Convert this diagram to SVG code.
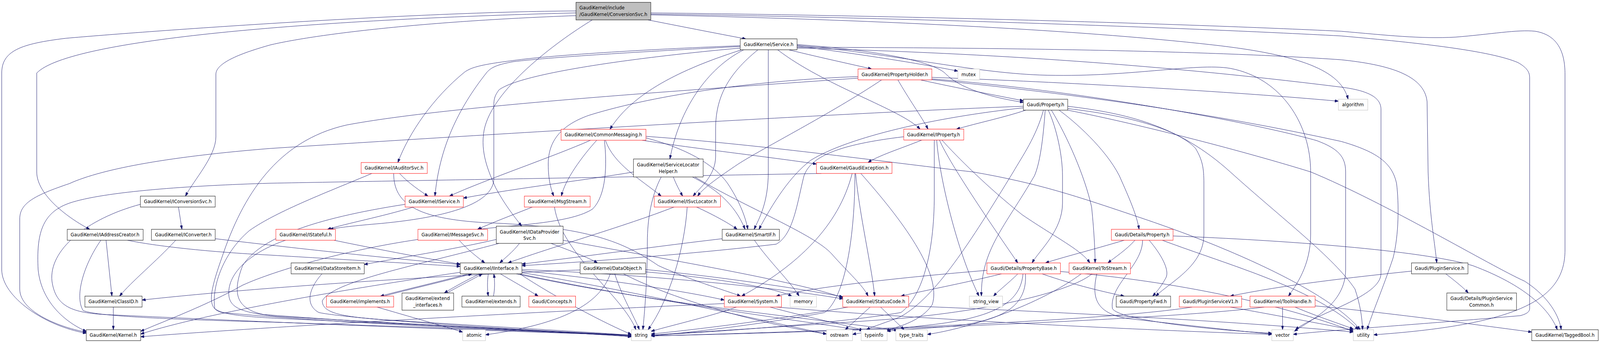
<svg xmlns="http://www.w3.org/2000/svg" width="4617" height="878" viewBox="0 0 4617 878" preserveAspectRatio="none">
<defs>
<marker id="arr" viewBox="0 0 10 7" refX="10" refY="3.5" markerWidth="10" markerHeight="7" markerUnits="userSpaceOnUse" orient="auto"><path d="M0,0 L10,3.5 L0,7 z" fill="#191970" stroke="#191970"/></marker>
</defs>
<style>
svg{width:100vw;height:100vh}
.n rect{fill:#fff;stroke:#000;stroke-width:1}
.n.r rect{stroke:#f00}
.n.s rect{stroke:#bfbfbf}
#root rect{fill:#bfbfbf}
text{font-family:"DejaVu Sans",sans-serif;font-size:13px;fill:#000;text-anchor:middle}
#root text{text-anchor:start}
#edges path{fill:none;stroke:#191970;stroke-width:1;marker-end:url(#arr)}
</style>
<rect x="0" y="0" width="4617" height="878" fill="#fff"/>
<g id="edges">
<path d="M1870,51 C1950,65 2070,86 2152,99.5"/>
<path d="M1662,28 C1200,30 420,80 190,98 C60,112 5,130 5,187 L5,690 C5,760 130,835 249,853"/>
<path d="M1662,33 C900,50 200,100 106,187 L106,440 C106,500 200,560 259,587"/>
<path d="M1662,40 C1200,55 900,90 780,115 C700,135 623,160 623,190 L623,350 C623,400 560,460 535,502"/>
<path d="M1709,51 C1600,110 1420,230 1397,333 C1385,390 1410,440 1430,480 C1460,530 1490,560 1505,579"/>
<path d="M1878,38 C2500,50 3100,75 3500,115 C3750,140 3870,180 3890,254"/>
<path d="M1878,33 C2600,40 3400,60 3870,80 C4000,90 4100,100 4200,95 C4300,88 4380,75 4430,80 C4500,90 4516,140 4516,190 L4516,640 C4516,760 4400,830 3964,857"/>
<path d="M1878,36 C2600,45 3400,70 3870,92 C4100,110 4300,130 4380,160 C4410,175 4414,187 4414,200 L4414,790 C4414,800 4400,805 4387,808 C4100,830 3800,848 3732,856"/>
<path d="M2140,127.5 C1990,170 1830,230 1760,331"/>
<path d="M2146,127.5 C2040,175 1960,280 1933,407"/>
<path d="M2187,127.5 C2100,190 2065,250 2065,330 L2065,400 C2065,450 2020,480 2000,502"/>
<path d="M2217,127.5 L2217,440 C2217,520 2190,560 2176,587"/>
<path d="M2244,127.5 C2380,220 2600,280 2655,330.5"/>
<path d="M2276,127.5 C2380,150 2460,165 2515,176.5"/>
<path d="M2300,118 C2500,140 2700,170 2764,182"/>
<path d="M2300,114 C2550,130 2700,160 2730,190 C2780,235 2900,255 2953,262"/>
<path d="M2300,121 C2900,122 3500,130 3870,153 C4000,165 4110,190 4118,260 L4121,440 C4125,550 4140,620 4146,673"/>
<path d="M2300,116 C2600,140 2800,185 3000,192 C3250,200 3450,160 3550,175 C3700,200 3782,320 3782,440 L3782,600 C3782,680 3740,730 3718,758"/>
<path d="M2300,123 C2800,135 3300,160 3870,223 C3950,232 3985,250 3985,280 L3985,700 C3985,760 3800,800 3738,844"/>
<path d="M2136,117 C1900,125 1600,140 1480,155 C1390,165 1360,172 1340,185 C1250,250 1180,340 1148,416"/>
<path d="M2136,119 C1900,130 1600,145 1480,158 C1440,165 1420,170 1405,185 C1320,280 1268,380 1255,502"/>
<path d="M2136,123 C1800,150 1500,190 1440,230 C1427,245 1425,255 1425,270 L1425,460 C1420,520 1300,555 1100,572 C1020,578 980,582 952,587"/>
<path d="M2591,204.5 C2620,250 2660,300 2678,330.5"/>
<path d="M2656,204.5 C2760,225 2880,245 2953,258"/>
<path d="M2544,204.5 C2400,290 2200,380 2130,420 C2080,450 2030,480 2013,502"/>
<path d="M2476,196 C2200,205 1900,240 1700,295 C1620,320 1582,360 1582,420 C1582,460 1590,485 1598,502"/>
<path d="M2476,200 C2000,230 1300,270 1000,320 C800,360 700,500 640,660 C600,760 600,790 640,800 C1000,830 1600,850 1822,858"/>
<path d="M2689,198 C3000,208 3500,230 3862,259"/>
<path d="M2689,202 C3100,230 3600,310 3800,360 C3860,380 3883,400 3883,440 L3883,690 C3883,780 3780,820 3735,848"/>
<path d="M2689,204 C3100,240 3500,290 3870,362 C3980,390 4018,420 4030,470 C4037,520 4037,600 4020,660 C3990,740 3960,800 3945,844"/>
<path d="M2953,272 C2400,290 1300,350 780,380 C500,400 300,430 200,470 C100,500 57,520 57,560 L57,740 C57,800 180,840 249,850"/>
<path d="M2953,276 C2700,300 2450,350 2340,410 C2280,450 2230,520 2190,587"/>
<path d="M2960,282 C2900,300 2820,315 2760,330.5"/>
<path d="M3011,282 C2990,350 2950,400 2924,440 C2800,620 2700,760 2600,810 C2560,825 2520,835 2500,844"/>
<path d="M3016,282 C3010,360 3000,420 2985,450 C2900,580 2830,640 2832,758"/>
<path d="M3025,282 C3050,330 3066,400 3066,450 L3066,520 C3066,590 3000,640 2978,673"/>
<path d="M3056,282 C3100,310 3190,380 3230,450 C3260,510 3280,550 3287,587"/>
<path d="M3081,272 C3250,290 3400,320 3550,440 C3700,560 3850,660 3910,740 C3925,780 3930,810 3932,844"/>
<path d="M3081,278 C3250,295 3400,330 3450,380 C3470,410 3474,430 3474,470 L3474,600 C3474,680 3380,720 3335,758"/>
<path d="M3081,282 C3300,320 3600,390 3782,440 C4000,520 4300,680 4400,720 C4470,760 4500,810 4505,844"/>
<path d="M3034,282 C3080,350 3130,450 3150,530 C3158,600 3160,650 3160,673"/>
<path d="M2608,350 C2420,370 2340,400 2320,450 C2300,520 2290,600 2240,625 C2000,650 1700,670 1506,680"/>
<path d="M2660,358.5 C2600,380 2530,400 2505,416"/>
<path d="M2696,358.5 L2696,500 C2696,650 2660,760 2600,800 C2400,830 2050,850 1879,858"/>
<path d="M2703,358.5 C2710,450 2760,640 2825,758"/>
<path d="M2711,358.5 C2740,420 2880,600 2937,673"/>
<path d="M2718,358.5 C2760,400 2850,480 2950,550 C3050,610 3120,640 3145,673"/>
<path d="M2370,444 C2000,450 1200,462 780,469 C550,475 300,490 200,520 C120,545 105,600 110,690 C120,780 200,830 249,848"/>
<path d="M2469,444 C2480,550 2515,680 2524,758"/>
<path d="M2459,444 C2420,580 2300,680 2140,758"/>
<path d="M2467,444 C2467,600 2440,760 2380,800 C2200,830 2000,850 1879,860"/>
<path d="M2484,444 C2600,560 2720,700 2690,780 C2660,820 2600,835 2556,846"/>
<path d="M1704,359 C1600,400 1400,460 1297,502"/>
<path d="M1722,359 C1680,400 1630,460 1620,502"/>
<path d="M1744,359 C1752,420 1750,500 1710,535 C1650,570 1500,575 1380,587"/>
<path d="M1747,359 C1770,420 1850,460 1908,502"/>
<path d="M1864,353 C1980,380 2060,420 2100,470 C2130,510 2150,550 2158,587"/>
<path d="M1853,359 C2000,380 2250,405 2356,420"/>
<path d="M1864,349 C2200,370 2600,420 2807,440 C3000,470 3100,500 3300,560 C3600,650 3850,760 3925,844"/>
<path d="M1153,444 C1180,470 1215,490 1235,502"/>
<path d="M1136,444 C1136,520 1200,560 1400,570 C1700,580 1800,620 1900,680 C2000,720 2100,745 2137,758"/>
<path d="M1073,444 C950,490 800,540 720,590 C640,650 610,740 620,790 C640,805 700,810 800,815 C1300,835 1700,852 1822,860"/>
<path d="M1829,440 C1700,460 1500,480 1337,507"/>
<path d="M1943,453 C1950,470 1962,490 1970,502"/>
<path d="M1998,453 C2060,480 2120,520 2150,587"/>
<path d="M2005,453 C2150,530 2350,600 2400,650 C2450,700 2490,730 2505,758"/>
<path d="M1908,453 C1880,500 1868,560 1868,620 C1868,720 1860,800 1855,844"/>
<path d="M515,530 L525,587"/>
<path d="M405,523 C250,560 140,640 150,720 C160,780 200,800 300,805 C900,830 1500,850 1822,858"/>
<path d="M306,615 L323,758"/>
<path d="M368,615 C450,630 600,645 780,653 C1000,665 1200,675 1328,682"/>
<path d="M291,615 C240,680 215,760 240,795 C280,810 500,818 800,825 C1300,840 1700,852 1822,862"/>
<path d="M507,615 C450,670 380,720 345,758"/>
<path d="M621,611 C800,630 1100,660 1328,677"/>
<path d="M1193,530 C1100,555 1000,572 945,587"/>
<path d="M1169,523 C900,560 750,610 700,680 C670,750 680,790 760,805 C1200,835 1650,850 1822,862"/>
<path d="M964,615 C1100,640 1250,665 1328,676"/>
<path d="M824,615 C740,640 660,690 660,750 C660,790 700,800 800,810 C1300,835 1650,850 1822,860"/>
<path d="M1325,615 C1350,640 1380,660 1399,673"/>
<path d="M1206,613 C1000,640 800,690 700,730 C600,780 480,820 406,848"/>
<path d="M1432,613 C1300,640 1150,660 1051,677"/>
<path d="M1499,623 C1480,645 1455,662 1442,673"/>
<path d="M1590,623 C1640,640 1700,660 1724,673"/>
<path d="M1625,615 C1900,660 2300,720 2432,762"/>
<path d="M1440,623 C1200,680 960,720 930,770 C930,800 980,810 1100,818 C1400,835 1700,850 1822,858"/>
<path d="M1536,530 C1480,550 1420,570 1378,587"/>
<path d="M1600,530 C1620,650 1800,760 1835,844"/>
<path d="M1945,530 C1800,580 1600,630 1466,673"/>
<path d="M1983,530 C1975,640 1930,770 1870,844"/>
<path d="M2010,530 C2060,550 2110,575 2127,587"/>
<path d="M2084,611 C1900,630 1700,655 1506,676"/>
<path d="M2177,615 C2220,670 2280,720 2306,758"/>
<path d="M929,701 C890,740 880,780 920,800 C1000,815 1400,840 1822,858"/>
<path d="M1352,701 C1250,725 1150,745 1098,758"/>
<path d="M1384,701 C1340,720 1300,740 1282,750"/>
<path d="M1409,701 C1406,720 1406,740 1409,758"/>
<path d="M1444,701 C1480,720 1530,745 1553,758"/>
<path d="M1328,697 C1000,740 600,800 406,855"/>
<path d="M1500,701 C1600,760 1750,830 1822,856"/>
<path d="M1506,690 C1800,700 2200,730 2432,765"/>
<path d="M1506,693 C1700,710 1950,740 2090,768"/>
<path d="M1506,698 C1800,740 2200,820 2385,855"/>
<path d="M1500,701 C1800,760 2300,820 2490,846"/>
<path d="M1490,701 C1900,780 2400,820 2590,846"/>
<path d="M1108,758 C1160,745 1260,725 1362,701"/>
<path d="M1088,786 C1180,810 1280,835 1335,850"/>
<path d="M1290,750 C1330,730 1370,712 1392,701"/>
<path d="M1424,758 C1428,740 1428,720 1425,701"/>
<path d="M327,786 L327,844"/>
<path d="M1674,691 C1400,700 800,730 410,768"/>
<path d="M1761,701 C1730,780 1620,830 1401,857"/>
<path d="M1774,701 C1795,760 1830,810 1845,844"/>
<path d="M1863,690 C2100,710 2350,745 2432,760"/>
<path d="M1863,696 C2050,710 2230,735 2285,758"/>
<path d="M1799,701 C1950,770 2200,830 2385,855"/>
<path d="M2090,777 C1500,800 800,835 406,862"/>
<path d="M2125,786 C2050,810 1950,830 1879,848"/>
<path d="M2222,786 C2320,810 2430,830 2490,845"/>
<path d="M2240,786 C2700,820 3300,845 3670,856"/>
<path d="M2447,786 C2300,810 2050,840 1879,855"/>
<path d="M2511,786 L2439,844"/>
<path d="M2541,786 L2609,844"/>
<path d="M2622,783 C3100,800 3600,825 3905,850"/>
<path d="M2890,701 C2780,725 2660,745 2600,758"/>
<path d="M2937,701 C2910,725 2880,745 2867,758"/>
<path d="M3007,701 C3100,730 3200,750 3244,758"/>
<path d="M2848,692 C2600,710 2350,735 2240,758"/>
<path d="M2959,701 C2965,780 2900,820 2750,835 C2650,842 2580,845 2560,848"/>
<path d="M2952,701 C2945,770 2880,810 2700,830 C2550,845 2480,852 2460,856"/>
<path d="M3060,695 C3400,720 3700,780 3905,848"/>
<path d="M3165,701 C3150,760 3160,800 3250,815 C3450,835 3600,850 3670,855"/>
<path d="M3151,701 C3100,740 2900,790 2600,815 C2300,835 2000,850 1879,858"/>
<path d="M3120,701 C3000,780 2800,840 2676,856"/>
<path d="M3244,615 C3150,640 3060,660 3017,673"/>
<path d="M3275,615 C3250,640 3215,660 3197,673"/>
<path d="M3316,615 C3350,650 3375,690 3365,710 C3350,735 3335,750 3326,758"/>
<path d="M3297,615 C3297,680 3200,730 3210,790 C3230,820 3500,845 3670,853"/>
<path d="M3354,615 C3550,680 3800,740 3920,844"/>
<path d="M3385,604 C3700,615 4100,640 4250,680 C4400,730 4470,790 4494,844"/>
<path d="M4073,694 C3900,710 3700,730 3550,758"/>
<path d="M4172,701 C4200,720 4225,738 4237,750"/>
<path d="M3440,786 C3200,820 2500,845 1879,860"/>
<path d="M3550,786 C3700,810 3850,835 3905,845"/>
<path d="M3648,786 C3400,815 2600,845 1879,860"/>
<path d="M3701,786 L3701,844"/>
<path d="M3737,786 C3800,810 3870,830 3905,842"/>
<path d="M3795,783 C4000,800 4250,830 4420,850"/>
</g>
<g id="root" class="n"><rect x="1662" y="6" width="216" height="45"/><text x="1672" y="24">GaudiKernel/include</text><text x="1672" y="41">/GaudiKernel/ConversionSvc.h</text></g>
<g id="service" class="n"><rect x="2136" y="99.5" width="164" height="28"/><text x="2218" y="118">GaudiKernel/Service.h</text></g>
<g id="propholder" class="n r"><rect x="2476" y="176.5" width="213" height="28"/><text x="2582" y="195">GaudiKernel/PropertyHolder.h</text></g>
<g id="mutex" class="n s"><rect x="2764" y="176.5" width="63" height="28"/><text x="2795" y="195">mutex</text></g>
<g id="gprop" class="n"><rect x="2953" y="254" width="128" height="28"/><text x="3017" y="272.5">Gaudi/Property.h</text></g>
<g id="algorithm" class="n s"><rect x="3862" y="254" width="85" height="28"/><text x="3904" y="272.5">algorithm</text></g>
<g id="commonmsg" class="n r"><rect x="1619" y="331" width="245" height="28"/><text x="1741" y="349.5">GaudiKernel/CommonMessaging.h</text></g>
<g id="iprop" class="n r"><rect x="2608" y="330.5" width="173" height="28"/><text x="2694" y="349">GaudiKernel/IProperty.h</text></g>
<g id="iauditor" class="n r"><rect x="1042" y="416" width="191" height="28"/><text x="1137" y="434.5">GaudiKernel/IAuditorSvc.h</text></g>
<g id="slh" class="n"><rect x="1828" y="407" width="201" height="46"/><text x="1928" y="426.5">GaudiKernel/ServiceLocator</text><text x="1928" y="443">Helper.h</text></g>
<g id="gexc" class="n r"><rect x="2356" y="416" width="218" height="28"/><text x="2465" y="434.5">GaudiKernel/GaudiException.h</text></g>
<g id="iconv" class="n"><rect x="405" y="502" width="216" height="28"/><text x="513" y="520.5">GaudiKernel/IConversionSvc.h</text></g>
<g id="iservice" class="n r"><rect x="1169" y="502" width="168" height="28"/><text x="1253" y="520.5">GaudiKernel/IService.h</text></g>
<g id="msgstream" class="n r"><rect x="1513" y="502" width="190" height="28"/><text x="1608" y="520.5">GaudiKernel/MsgStream.h</text></g>
<g id="isvcloc" class="n r"><rect x="1888" y="502" width="191" height="28"/><text x="1983" y="520.5">GaudiKernel/ISvcLocator.h</text></g>
<g id="detprop" class="n r"><rect x="3207" y="587" width="178" height="28"/><text x="3296" y="605.5">Gaudi/Details/Property.h</text></g>
<g id="iaddr" class="n"><rect x="194" y="587" width="219" height="28"/><text x="303" y="605.5">GaudiKernel/IAddressCreator.h</text></g>
<g id="iconverter" class="n"><rect x="437" y="587" width="184" height="28"/><text x="529" y="605.5">GaudiKernel/IConverter.h</text></g>
<g id="istateful" class="n r"><rect x="796" y="587" width="172" height="28"/><text x="882" y="605.5">GaudiKernel/IStateful.h</text></g>
<g id="imsgsvc" class="n r"><rect x="1206" y="587" width="201" height="28"/><text x="1306" y="605.5">GaudiKernel/IMessageSvc.h</text></g>
<g id="idps" class="n"><rect x="1432" y="579" width="193" height="44"/><text x="1528" y="598">GaudiKernel/IDataProvider</text><text x="1528" y="614">Svc.h</text></g>
<g id="smartif" class="n"><rect x="2084" y="587" width="165" height="28"/><text x="2166" y="605.5">GaudiKernel/SmartIF.h</text></g>
<g id="datastoreitem" class="n"><rect x="840" y="673" width="211" height="28"/><text x="945" y="691.5">GaudiKernel/DataStoreItem.h</text></g>
<g id="iinterface" class="n"><rect x="1328" y="673" width="178" height="28"/><text x="1417" y="691.5">GaudiKernel/IInterface.h</text></g>
<g id="dataobject" class="n"><rect x="1674" y="673" width="189" height="28"/><text x="1768" y="691.5">GaudiKernel/DataObject.h</text></g>
<g id="propbase" class="n r"><rect x="2848" y="673" width="212" height="28"/><text x="2954" y="691.5">Gaudi/Details/PropertyBase.h</text></g>
<g id="tostream" class="n r"><rect x="3085" y="673" width="177" height="28"/><text x="3173" y="691.5">GaudiKernel/ToStream.h</text></g>
<g id="pluginservice" class="n"><rect x="4073" y="673" width="163" height="28"/><text x="4154" y="691.5">Gaudi/PluginService.h</text></g>
<g id="classid" class="n"><rect x="245" y="758" width="165" height="28"/><text x="327" y="776.5">GaudiKernel/ClassID.h</text></g>
<g id="implements" class="n r"><rect x="942" y="758" width="194" height="28"/><text x="1039" y="776.5">GaudiKernel/implements.h</text></g>
<g id="extendif" class="n"><rect x="1160" y="750" width="149" height="44"/><text x="1234" y="768">GaudiKernel/extend</text><text x="1234" y="785">_interfaces.h</text></g>
<g id="extends" class="n"><rect x="1333" y="758" width="168" height="28"/><text x="1417" y="776.5">GaudiKernel/extends.h</text></g>
<g id="concepts" class="n r"><rect x="1526" y="758" width="135" height="28"/><text x="1593" y="776.5">Gaudi/Concepts.h</text></g>
<g id="system" class="n r"><rect x="2090" y="758" width="165" height="28"/><text x="2172" y="776.5">GaudiKernel/System.h</text></g>
<g id="memory" class="n s"><rect x="2280" y="758" width="76" height="28"/><text x="2318" y="776.5">memory</text></g>
<g id="statuscode" class="n r"><rect x="2432" y="758" width="190" height="28"/><text x="2527" y="776.5">GaudiKernel/StatusCode.h</text></g>
<g id="string_view" class="n s"><rect x="2797" y="758" width="96" height="28"/><text x="2845" y="776.5">string_view</text></g>
<g id="propfwd" class="n"><rect x="3221" y="758" width="157" height="28"/><text x="3299" y="776.5">Gaudi/PropertyFwd.h</text></g>
<g id="pluginv1" class="n r"><rect x="3403" y="758" width="180" height="28"/><text x="3493" y="776.5">Gaudi/PluginServiceV1.h</text></g>
<g id="toolhandle" class="n r"><rect x="3607" y="758" width="188" height="28"/><text x="3701" y="776.5">GaudiKernel/ToolHandle.h</text></g>
<g id="pscommon" class="n"><rect x="4175" y="750" width="201" height="44"/><text x="4275" y="768">Gaudi/Details/PluginService</text><text x="4275" y="785">Common.h</text></g>
<g id="kernel" class="n"><rect x="249" y="844" width="157" height="28"/><text x="327" y="862.5">GaudiKernel/Kernel.h</text></g>
<g id="atomic" class="n s"><rect x="1335" y="844" width="66" height="28"/><text x="1368" y="862.5">atomic</text></g>
<g id="string" class="n s"><rect x="1822" y="844" width="57" height="28"/><text x="1850" y="862.5">string</text></g>
<g id="ostream" class="n s"><rect x="2385" y="844" width="75" height="28"/><text x="2422" y="862.5">ostream</text></g>
<g id="typeinfo" class="n s"><rect x="2485" y="844" width="75" height="28"/><text x="2522" y="862.5">typeinfo</text></g>
<g id="type_traits" class="n s"><rect x="2585" y="844" width="91" height="28"/><text x="2630" y="862.5">type_traits</text></g>
<g id="vector" class="n s"><rect x="3670" y="844" width="62" height="28"/><text x="3701" y="862.5">vector</text></g>
<g id="utility" class="n s"><rect x="3905" y="844" width="59" height="28"/><text x="3934" y="862.5">utility</text></g>
<g id="taggedbool" class="n"><rect x="4420" y="844" width="192" height="28"/><text x="4516" y="862.5">GaudiKernel/TaggedBool.h</text></g>
</svg>
